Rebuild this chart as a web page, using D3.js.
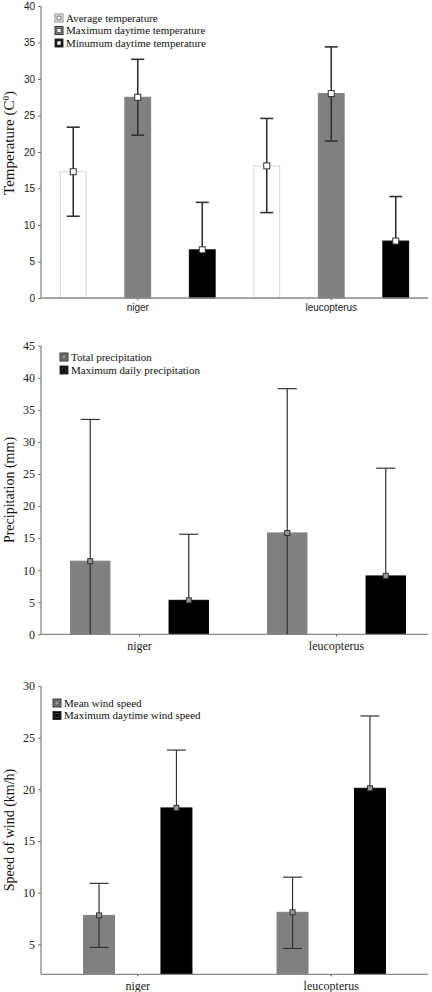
<!DOCTYPE html>
<html><head><meta charset="utf-8">
<script src="https://cdn.jsdelivr.net/npm/d3@7"></script>
<style>body{margin:0;background:#fff}svg{display:block}</style>
</head><body>
<svg id="c" width="432" height="992"></svg>
<script>
const categories = ["niger", "leucopterus"];

// Panel 1: temperature
const tempSeries = ["Average temperature", "Maximum daytime temperature", "Minumum daytime temperature"];
const tempValues = [[17.3, 27.5, 6.6], [18.1, 28.0, 7.8]];
const tempLow = [[11.2, 22.3, 0.1], [11.7, 21.5, 1.7]];
const tempHigh = [[23.4, 32.7, 13.1], [24.6, 34.4, 13.9]];
const tempTicks = [0, 5, 10, 15, 20, 25, 30, 35, 40];

// Panel 2: precipitation
const precSeries = ["Total precipitation", "Maximum daily precipitation"];
const precValues = [[11.4, 5.3], [15.8, 9.1]];
const precLow = [[-10.7, -5.0], [-6.7, -7.7]];
const precHigh = [[33.5, 15.6], [38.3, 25.9]];
const precTicks = [0, 5, 10, 15, 20, 25, 30, 35, 40, 45];

// Panel 3: wind
const windSeries = ["Mean wind speed", "Maximum daytime wind speed"];
const windValues = [[7.8, 18.2], [8.1, 20.1]];
const windLow = [[4.7, 12.6], [4.6, 13.1]];
const windHigh = [[10.9, 23.8], [11.5, 27.1]];
const windTicks = [5, 10, 15, 20, 25, 30];

const svg = d3.select("#c");
const SERIF = "'Liberation Serif','Times New Roman',serif";
const SANS = "'Liberation Sans',Arial,sans-serif";

function panel(o) {
  const g = svg.append("g");
  const y = d3.scaleLinear().domain(o.yDomain).range([o.bottom, o.top]);
  const x = d3.scaleBand().domain(categories).range(o.xRange).paddingInner(0).paddingOuter(0);
  const xs = d3.scaleBand().domain(o.series).range([-x.bandwidth() / 2, x.bandwidth() / 2])
    .paddingInner(o.pi).paddingOuter(o.po);

  // bars
  categories.forEach((c, ci) => {
    o.series.forEach((s, si) => {
      const v = o.values[ci][si];
      const cx = x(c) + x.bandwidth() / 2 + xs(s);
      g.append("rect")
        .attr("x", cx).attr("y", y(v))
        .attr("width", xs.bandwidth()).attr("height", y(o.yDomain[0]) - y(v))
        .attr("fill", o.fills[si]).attr("stroke", o.strokes[si]).attr("stroke-width", 1);
    });
  });

  // axes
  const ya = d3.axisLeft(y).tickValues(o.ticks).tickSize(3).tickPadding(3);
  const yg = g.append("g").attr("transform", `translate(${o.xRange[0]},0)`).call(ya);
  yg.select(".domain").remove();
  yg.selectAll("line").attr("stroke", "#777");
  yg.selectAll("text").attr("font-family", o.tickFont).attr("font-size", o.tickSize).attr("fill", "#222");
  g.append("line").attr("x1", o.xRange[0]).attr("x2", o.xRange[0]).attr("y1", o.top).attr("y2", o.bottom)
    .attr("stroke", "#888").attr("stroke-width", 1.3);
  const xa = d3.axisBottom(x).tickSize(2).tickPadding(o.xPad);
  const xg = g.append("g").attr("transform", `translate(0,${o.bottom})`).call(xa);
  xg.select(".domain").remove();
  xg.selectAll("line").attr("stroke", "#444");
  xg.selectAll("text").attr("font-family", o.tickFont).attr("font-size", o.catSize).attr("fill", "#222");
  g.append("line").attr("x1", o.xRange[0]).attr("x2", 428).attr("y1", o.bottom).attr("y2", o.bottom)
    .attr("stroke", "#888").attr("stroke-width", 1.3);

  // error bars and markers
  categories.forEach((c, ci) => {
    o.series.forEach((s, si) => {
      const cx = x(c) + x.bandwidth() / 2 + xs(s) + xs.bandwidth() / 2;
      const lo = o.low[ci][si], hi = o.high[ci][si], v = o.values[ci][si];
      const dark = o.fills[si] === "#000";
      const ylo = dark ? y(v) : y(Math.max(lo, o.yDomain[0]));
      g.append("line").attr("x1", cx).attr("x2", cx).attr("y1", ylo).attr("y2", y(hi))
        .attr("stroke", "#333").attr("stroke-width", o.ew);
      g.append("line").attr("x1", cx - o.cap / 2).attr("x2", cx + o.cap / 2).attr("y1", y(hi)).attr("y2", y(hi))
        .attr("stroke", "#333").attr("stroke-width", o.ew);
      if (lo >= o.yDomain[0] && !dark) {
        g.append("line").attr("x1", cx - o.cap / 2).attr("x2", cx + o.cap / 2).attr("y1", y(lo)).attr("y2", y(lo))
          .attr("stroke", "#333").attr("stroke-width", o.ew);
      }
      g.append("rect").attr("x", cx - o.ms / 2).attr("y", y(v) - o.ms / 2).attr("width", o.ms).attr("height", o.ms)
        .attr("fill", o.markerFill).attr("stroke", "#333").attr("stroke-width", 1);
    });
  });

  // legend
  o.series.forEach((s, si) => {
    const ly = o.legY + si * o.legStep;
    g.append("rect").attr("x", o.legX).attr("y", ly - 4).attr("width", 8).attr("height", 8)
      .attr("fill", o.legFills[si]).attr("stroke", si === 0 && o.legStroke0 ? o.legStroke0 : "#333").attr("stroke-width", 1);
    if (o.legMark) {
      g.append("rect").attr("x", o.legX + 2).attr("y", ly - 2).attr("width", 4).attr("height", 4)
        .attr("fill", o.legMarkFill[si]).attr("stroke", "#444").attr("stroke-width", 0.8);
    }
    g.append("text").attr("x", o.legX + 11).attr("y", ly).attr("dy", "0.35em")
      .attr("font-family", SERIF).attr("font-size", o.legSize).attr("fill", "#111").text(s);
  });

  // y label
  g.append("text").attr("transform", `translate(${o.labX},${o.labY}) rotate(-90)`)
    .attr("text-anchor", "middle").attr("font-family", SERIF).attr("font-size", o.labSize).attr("fill", "#111")
    .html(o.label);
}

panel({
  series: tempSeries, values: tempValues, low: tempLow, high: tempHigh, ticks: tempTicks,
  yDomain: [0, 40], top: 6, bottom: 298, xRange: [41, 428], pi: 0.6, po: 0.3,
  fills: ["#fff", "#808080", "#000"], strokes: ["#d8d8d8", "#808080", "#000"],
  tickFont: SANS, tickSize: 10, catSize: 10, xPad: 4, ew: 1.6, cap: 13, ms: 6, markerFill: "#fff",
  legX: 55, legY: 18, legStep: 12.5, legSize: 11,
  legFills: ["#fff", "#808080", "#000"], legStroke0: "#888", legMark: true, legMarkFill: ["#fff", "#fff", "#fff"],
  labX: 14, labY: 143, labSize: 15, label: 'Temperature (C<tspan baseline-shift="super" font-size="9">0</tspan>)'
});

panel({
  series: precSeries, values: precValues, low: precLow, high: precHigh, ticks: precTicks,
  yDomain: [0, 45], top: 345.7, bottom: 634.3, xRange: [41, 435], pi: 0.6, po: 0.3,
  fills: ["#808080", "#000"], strokes: ["#808080", "#000"],
  tickFont: SERIF, tickSize: 12, catSize: 12, xPad: 5, ew: 1.2, cap: 19, ms: 5, markerFill: "#999",
  legX: 60, legY: 357, legStep: 13, legSize: 11,
  legFills: ["#808080", "#000"], legMark: true, legMarkFill: ["#999", "#000"],
  labX: 14, labY: 490, labSize: 14, label: "Precipitation (mm)"
});

panel({
  series: windSeries, values: windValues, low: windLow, high: windHigh, ticks: windTicks,
  yDomain: [2.1, 30], top: 686, bottom: 974.3, xRange: [41, 428], pi: 0.6, po: 0.55,
  fills: ["#808080", "#000"], strokes: ["#808080", "#000"],
  tickFont: SERIF, tickSize: 12, catSize: 12, xPad: 5, ew: 1.2, cap: 19, ms: 5, markerFill: "#999",
  legX: 53, legY: 703, legStep: 12.5, legSize: 11,
  legFills: ["#808080", "#000"], legMark: true, legMarkFill: ["#999", "#000"],
  labX: 14, labY: 830, labSize: 14, label: "Speed of wind (km/h)"
});
</script>
</body></html>
